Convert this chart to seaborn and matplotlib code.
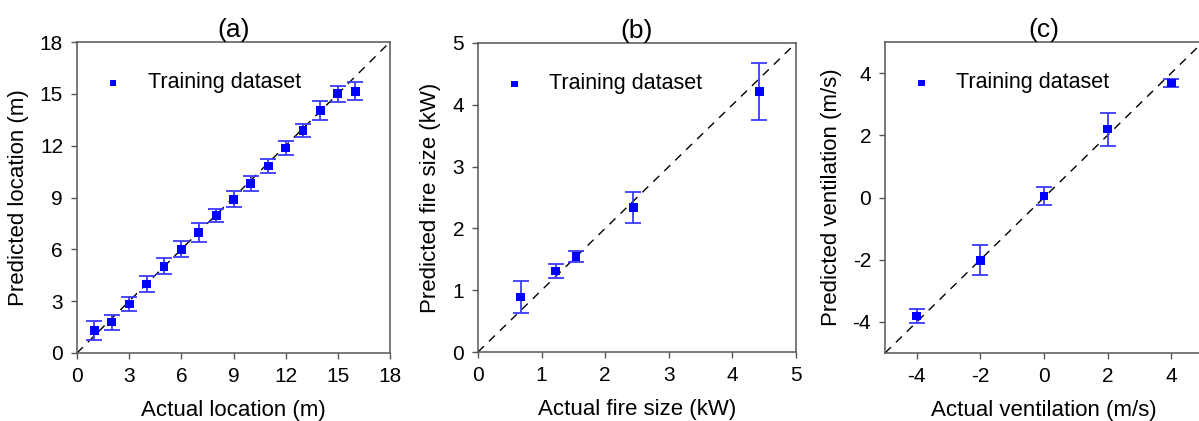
import numpy as np
import pandas as pd
import matplotlib
matplotlib.use("Agg")
import matplotlib.pyplot as plt
import seaborn as sns

# (a) fire location
loc_actual = [1, 2, 3, 4, 5, 6, 7, 8, 9, 10, 11, 12, 13, 14, 15, 16]
loc_pred = [1.3, 1.79, 2.83, 3.99, 5.02, 6.01, 6.99, 7.97, 8.89, 9.82, 10.82, 11.86, 12.86, 14.04, 15.0, 15.15]
loc_err = [0.55, 0.43, 0.40, 0.44, 0.45, 0.46, 0.56, 0.39, 0.46, 0.44, 0.42, 0.41, 0.38, 0.53, 0.48, 0.52]

# (b) fire size
size_actual = [0.67, 1.22, 1.54, 2.44, 4.42]
size_pred = [0.89, 1.31, 1.55, 2.34, 4.22]
size_err = [0.26, 0.12, 0.09, 0.245, 0.46]

# (c) ventilation
vent_actual = [-4, -2, 0, 2, 4]
vent_pred = [-3.81, -2.02, 0.05, 2.2, 3.68]
vent_err = [0.21, 0.48, 0.3, 0.53, 0.14]

sns.set_theme(style="ticks")
plt.rcParams['font.family'] = ['Liberation Sans', 'DejaVu Sans']
plt.rcParams['axes.unicode_minus'] = False
plt.rcParams['axes.edgecolor'] = '#555555'
plt.rcParams['xtick.color'] = '#555555'
plt.rcParams['ytick.color'] = '#555555'
plt.rcParams['xtick.labelcolor'] = 'black'
plt.rcParams['ytick.labelcolor'] = 'black'
plt.rcParams['text.color'] = 'black'
plt.rcParams['axes.labelcolor'] = 'black'

fig = plt.figure(figsize=(11.99, 4.21), dpi=100)
W, H = 1199, 421

panels = [
    dict(x=loc_actual, y=loc_pred, e=loc_err, lim=(0, 18), ticks=np.arange(0, 19, 3),
         xlabel='Actual location (m)', ylabel='Predicted location (m)', title='(a)',
         box=(77, 42, 390, 353)),
    dict(x=size_actual, y=size_pred, e=size_err, lim=(0, 5), ticks=np.arange(0, 6, 1),
         xlabel='Actual fire size (kW)', ylabel='Predicted fire size (kW)', title='(b)',
         box=(478, 43, 796, 352)),
    dict(x=vent_actual, y=vent_pred, e=vent_err, lim=(-5, 5), ticks=[-4, -2, 0, 2, 4],
         xlabel='Actual ventilation (m/s)', ylabel='Predicted ventilation (m/s)', title='(c)',
         box=(885, 42, 1203, 353)),
]

for p in panels:
    l, t, r, b = p['box']
    ax = fig.add_axes([l / W, (H - b) / H, (r - l) / W, (b - t) / H])
    lo, hi = p['lim']
    ax.plot([lo, hi], [lo, hi], color='black', lw=1, ls=(0, (6, 5)), zorder=1)
    ax.errorbar(p['x'], p['y'], yerr=p['e'], fmt='none', ecolor='#3b3bff',
                elinewidth=1.3, capsize=6, capthick=1.3, zorder=2)
    df = pd.DataFrame({'actual': p['x'], 'pred': p['y']})
    sns.scatterplot(data=df, x='actual', y='pred', ax=ax, marker='s', s=40,
                    color='#0000ff', edgecolor='none', label='Training dataset', zorder=3)
    ax.set_xlim(lo, hi)
    ax.set_ylim(lo, hi)
    ax.set_xticks(p['ticks'])
    ax.set_yticks(p['ticks'])
    ax.tick_params(labelsize=15, direction='out', length=4, width=1, pad=6)
    ax.set_xlabel(p['xlabel'], fontsize=16, labelpad=10)
    ax.set_ylabel(p['ylabel'], fontsize=16, labelpad=8)
    ax.set_title(p['title'], fontsize=19, pad=3)
    for s in ax.spines.values():
        s.set_linewidth(1.1)
    ax.legend(loc='upper left', bbox_to_anchor=(0.02, 0.93), frameon=False,
              fontsize=15.5, handletextpad=0.6, markerscale=0.7, borderaxespad=0)

fig.savefig('out.png', dpi=100)
